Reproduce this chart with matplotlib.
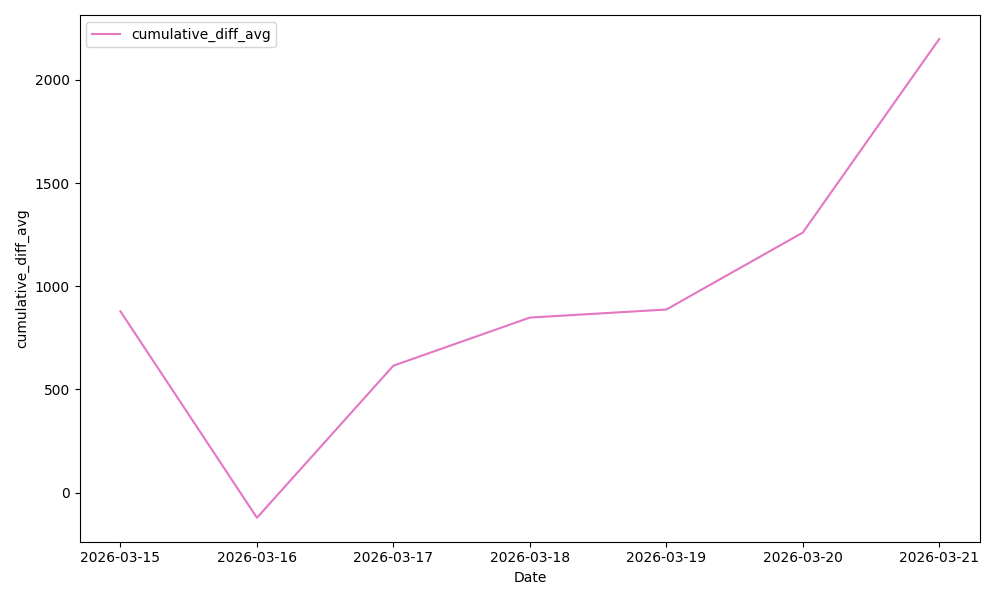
import pandas as pd
import matplotlib
matplotlib.use('Agg')
import matplotlib.pyplot as plt

# Daily values
dates = ['2026-03-15', '2026-03-16', '2026-03-17', '2026-03-18',
         '2026-03-19', '2026-03-20', '2026-03-21']
cumulative_diff_avg = [878, -122, 615, 848, 887, 1260, 2198]

df = pd.DataFrame({'Date': pd.to_datetime(dates),
                   'cumulative_diff_avg': cumulative_diff_avg})

fig, ax = plt.subplots(figsize=(10, 6))
ax.plot(df['Date'], df['cumulative_diff_avg'], color='#e377c2', label='cumulative_diff_avg')

ax.set_xticks(df['Date'])
ax.set_xticklabels(dates)
ax.set_xlabel('Date')
ax.set_ylabel('cumulative_diff_avg')
ax.legend(loc='upper left')

plt.tight_layout()
plt.savefig('out.png', dpi=100)
